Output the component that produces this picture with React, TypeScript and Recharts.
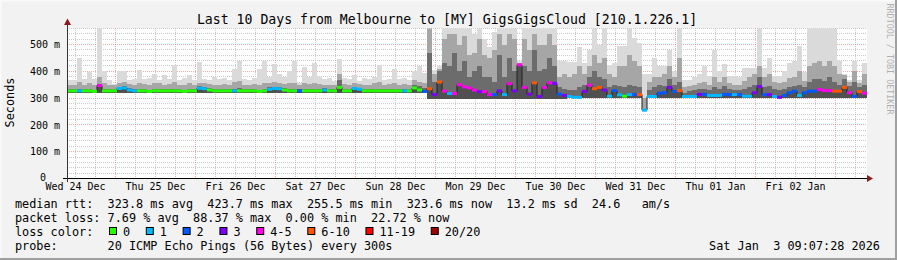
import React from 'react';
import { ComposedChart, Area, Line, Scatter, XAxis, YAxis, CartesianGrid } from 'recharts';

// time axis: hours after Wed 24 Dec 00:00; window is 10 days ending Sat 3 Jan 09:07
const T_START = 9.45;
const T_END = 249.45;
const STEP = 1.5; // hours per bucket

const dayLabels = ['Wed 24 Dec', 'Thu 25 Dec', 'Fri 26 Dec', 'Sat 27 Dec', 'Sun 28 Dec', 'Mon 29 Dec', 'Tue 30 Dec', 'Wed 31 Dec', 'Thu 01 Jan', 'Fri 02 Jan'];
const dayLabelHours = [12, 36, 60, 84, 108, 132, 156, 180, 204, 228];
const yTicks = [0, 100, 200, 300, 400, 500];
const Y_MAX = 560;

const LOSS_COLORS = ['#26ff00', '#00b8ff', '#0059ff', '#7e00ff', '#ff00ea', '#ff5500', '#ff0000', '#a10000'];
const LOSS_LABELS = ['0', '1', '2', '3', '4-5', '6-10', '11-19', '20/20'];

// median rtt (ms) per bucket
const median = [
  327, 327, 327, 327, 327, 325, 347, 327, 327, 327,
  336, 338, 330, 327, 327, 327, 325, 327, 327, 327,
  327, 327, 327, 325, 327, 327, 337, 335, 330, 327,
  327, 327, 327, 327, 327, 327, 327, 327, 325, 327,
  333, 336, 335, 330, 327, 327, 327, 327, 327, 327,
  327, 330, 327, 327, 340, 327, 327, 336, 333, 327,
  327, 327, 327, 327, 327, 327, 327, 327, 327, 338,
  330, 325, 335, 313, 360, 326, 317, 317, 350, 342,
  338, 330, 324, 324, 313, 313, 327, 313, 354, 327,
  424, 340, 315, 357, 306, 340, 357, 355, 315, 310,
  306, 303, 303, 325, 348, 335, 340, 330, 307, 328,
  312, 307, 313, 313, 313, 255, 306, 306, 318, 320,
  340, 325, 328, 306, 306, 306, 314, 314, 310, 310,
  310, 314, 313, 313, 313, 307, 307, 320, 343, 313,
  313, 306, 303, 310, 320, 326, 310, 320, 326, 326,
  332, 328, 328, 326, 326, 340, 320, 306, 324, 318,
];

// loss class index per bucket (into LOSS_COLORS)
const lossClass = [
  0, 0, 1, 0, 0, 0, 4, 0, 0, 0,
  1, 1, 1, 1, 0, 0, 0, 0, 0, 0,
  0, 0, 0, 0, 0, 0, 1, 1, 0, 0,
  0, 0, 0, 1, 0, 0, 0, 0, 0, 0,
  1, 1, 1, 0, 0, 0, 2, 0, 0, 0,
  0, 1, 0, 0, 0, 0, 0, 1, 1, 0,
  0, 0, 0, 0, 0, 0, 0, 1, 0, 0,
  0, 2, 5, 3, 5, 4, 1, 4, 4, 4,
  4, 4, 3, 4, 4, 2, 3, 1, 4, 3,
  4, 4, 3, 5, 3, 4, 4, 3, 2, 3,
  1, 1, 1, 3, 4, 5, 5, 3, 1, 2,
  1, 0, 1, 2, 5, 1, 1, 1, 2, 2,
  3, 2, 5, 1, 1, 1, 3, 2, 1, 1,
  1, 2, 2, 1, 2, 1, 1, 3, 3, 2,
  3, 1, 3, 2, 2, 2, 1, 2, 2, 2,
  4, 4, 4, 5, 5, 5, 4, 2, 5, 4,
];

// smoke: bottom edge (fastest pings)
const smokeLow = [
  318, 318, 318, 318, 318, 318, 318, 318, 318, 318,
  318, 318, 318, 318, 318, 318, 318, 318, 318, 318,
  318, 318, 318, 318, 318, 318, 318, 318, 318, 318,
  318, 318, 318, 318, 318, 318, 318, 318, 318, 318,
  318, 318, 318, 318, 318, 318, 318, 318, 318, 318,
  318, 318, 318, 318, 320, 318, 318, 318, 318, 318,
  318, 318, 318, 318, 318, 318, 318, 318, 318, 318,
  318, 318, 298, 298, 298, 298, 298, 298, 298, 298,
  298, 298, 298, 298, 298, 298, 298, 298, 298, 298,
  298, 298, 298, 298, 298, 298, 298, 298, 298, 298,
  302, 302, 302, 302, 302, 302, 302, 302, 302, 302,
  302, 302, 302, 302, 302, 252, 302, 302, 302, 302,
  302, 302, 302, 302, 302, 302, 302, 302, 302, 302,
  302, 302, 302, 302, 302, 302, 302, 302, 302, 302,
  302, 302, 302, 302, 302, 302, 302, 302, 302, 302,
  302, 302, 302, 302, 302, 302, 302, 302, 302, 302,
];

// smoke: top of the dark core
const smokeDark = [
  333, 333, 333, 333, 334, 331, 352, 333, 333, 333,
  343, 345, 337, 333, 333, 334, 331, 333, 334, 333,
  333, 334, 333, 331, 334, 333, 344, 342, 336, 333,
  333, 334, 333, 333, 336, 333, 333, 333, 331, 333,
  340, 343, 342, 336, 333, 334, 333, 333, 334, 333,
  333, 336, 333, 333, 368, 333, 333, 342, 339, 333,
  333, 334, 333, 333, 333, 334, 333, 333, 333, 350,
  345, 336, 470, 360, 400, 430, 420, 470, 400, 440,
  380, 400, 420, 380, 380, 360, 460, 380, 450, 400,
  426, 420, 400, 480, 400, 410, 450, 420, 340, 335,
  330, 330, 340, 350, 380, 400, 380, 370, 340, 350,
  345, 340, 350, 345, 340, 258, 330, 340, 350, 345,
  370, 350, 360, 320, 325, 330, 335, 335, 330, 340,
  335, 345, 335, 330, 330, 335, 340, 350, 380, 340,
  345, 335, 330, 335, 340, 345, 350, 340, 360, 370,
  370, 365, 380, 360, 350, 370, 345, 360, 340, 350,
];

// smoke: top of the mid-grey band
const smokeMid = [
  348, 350, 360, 350, 355, 348, 380, 355, 350, 348,
  358, 360, 352, 350, 355, 352, 350, 355, 358, 350,
  352, 360, 350, 350, 355, 350, 358, 356, 352, 350,
  350, 352, 350, 360, 362, 350, 350, 352, 350, 355,
  355, 360, 358, 352, 355, 358, 348, 356, 352, 358,
  352, 350, 350, 348, 390, 352, 350, 356, 352, 350,
  350, 355, 360, 350, 352, 358, 350, 352, 350, 368,
  360, 355, 560, 390, 410, 520, 540, 540, 500, 530,
  460, 470, 520, 460, 450, 480, 540, 500, 540, 520,
  430, 520, 480, 540, 500, 500, 540, 500, 380, 390,
  380, 390, 420, 390, 420, 460, 430, 450, 390, 380,
  420, 420, 460, 440, 420, 300, 360, 380, 380, 390,
  420, 380, 450, 340, 345, 350, 355, 360, 350, 380,
  360, 380, 355, 350, 350, 365, 380, 390, 420, 380,
  390, 360, 355, 360, 375, 380, 400, 365, 420, 430,
  440, 420, 440, 420, 390, 385, 360, 400, 355, 390,
];

// smoke: top edge (slowest pings)
const smokeHigh = [
  366, 366, 448, 373, 396, 373, 560, 400, 366, 354,
  400, 400, 366, 370, 406, 370, 375, 390, 366, 385,
  370, 424, 366, 375, 385, 366, 434, 370, 366, 380,
  370, 375, 366, 410, 440, 370, 366, 375, 410, 437,
  380, 429, 390, 380, 400, 437, 358, 415, 380, 430,
  380, 370, 375, 365, 447, 375, 370, 385, 365, 375,
  370, 380, 424, 366, 370, 410, 370, 375, 366, 400,
  421, 395, 560, 403, 420, 560, 560, 560, 560, 560,
  560, 540, 560, 520, 490, 545, 560, 560, 560, 560,
  440, 560, 560, 560, 560, 560, 560, 560, 440, 440,
  433, 433, 490, 430, 478, 560, 500, 560, 425, 430,
  496, 496, 560, 526, 507, 390, 390, 450, 420, 420,
  478, 400, 560, 366, 366, 380, 390, 420, 384, 478,
  400, 429, 384, 384, 380, 414, 414, 414, 560, 414,
  451, 384, 384, 400, 430, 438, 496, 397, 560, 560,
  560, 560, 560, 560, 440, 390, 366, 440, 366, 430,
];

const statLines = [
  'median rtt:  323.8 ms avg  423.7 ms max  255.5 ms min  323.6 ms now  13.2 ms sd  24.6   am/s',
  'packet loss: 7.69 % avg  88.37 % max  0.00 % min  22.72 % now',
];
const lossColorTitle = 'loss color:';
const probeLine = 'probe:       20 ICMP Echo Pings (56 Bytes) every 300s';
const stampLine = 'Sat Jan  3 09:07:28 2026';
const titleText = 'Last 10 Days from Melbourne to [MY] GigsGigsCloud [210.1.226.1]';

const MONO = '"DejaVu Sans Mono", "Liberation Mono", monospace';
const CHAR_W = 7.12;

const rows = median.map((m, i) => ({
  t: T_START + STEP * i,
  base: smokeLow[i],
  s1: m - smokeLow[i],
  s2: smokeDark[i] - m,
  s3: smokeMid[i] - smokeDark[i],
  s4: smokeHigh[i] - smokeMid[i],
  med: m,
}));
const last = rows[rows.length - 1];
rows.push({ ...last, t: T_END });

const medPoints = median.map((m, i) => ({
  t: T_START + STEP * i,
  med: m,
  color: LOSS_COLORS[lossClass[i]],
}));

const minorH: number[] = [];
for (let v = 20; v <= Y_MAX; v += 20) if (v % 100 !== 0) minorH.push(v);
const majorH = [100, 200, 300, 400, 500];
const minorV: number[] = [];
const majorV: number[] = [];
for (let h = 12; h < T_END; h += 6) {
  if (h % 24 === 0) majorV.push(h);
  else minorV.push(h);
}

const XTick = (props: any) => {
  const { x, y, payload } = props;
  const idx = dayLabelHours.indexOf(payload.value);
  return (
    <text x={x} y={y + 11.5} textAnchor="middle" fontFamily={MONO} fontSize={10} fill="#000">
      {idx >= 0 ? dayLabels[idx] : ''}
    </text>
  );
};

const YTick = (props: any) => {
  const { x, y, payload } = props;
  const v = payload.value;
  return (
    <text x={v === 0 ? x - 14 : x} y={v === 0 ? y + 2.6 : y + 3.6} textAnchor="end" fontFamily={MONO} fontSize={10} fill="#000">
      {v === 0 ? '0' : `${v} m`}
    </text>
  );
};

const MedianMark = (props: any) => {
  const { cx, cy, payload } = props;
  if (cx == null || cy == null) return null;
  return <rect x={cx} y={cy - 1.5} width={5} height={3} fill={payload.color} />;
};

export default function App() {
  let boxX = 109;
  const legendItems = LOSS_LABELS.map((lab, k) => {
    const bx = boxX;
    boxX += (lab.length + 4.17) * CHAR_W;
    return (
      <g key={lab}>
        <rect x={bx + 0.5} y={227.5} width={7} height={7} fill={LOSS_COLORS[k]} stroke="#000" strokeWidth={1} />
        <text x={bx + 14} y={235.5} fontFamily={MONO} fontSize={11.83} fill="#000">{lab}</text>
      </g>
    );
  });

  return (
    <div style={{ position: 'absolute', left: 0, top: 0, width: 897, height: 260, background: '#f2f2f2', overflow: 'hidden' }}>
      <ComposedChart width={897} height={260} data={rows} margin={{ top: 28.42, right: 30, bottom: 0, left: 7 }}>
        <CartesianGrid fill="#ffffff" horizontal={false} vertical={false} />
        <XAxis
          dataKey="t"
          type="number"
          domain={[T_START, T_END]}
          allowDataOverflow
          ticks={dayLabelHours}
          interval={0}
          height={81.5}
          axisLine={false}
          tickLine={false}
          tickSize={0}
          tickMargin={0}
          tick={<XTick />}
        />
        <YAxis
          type="number"
          domain={[0, Y_MAX]}
          allowDataOverflow
          ticks={yTicks}
          interval={0}
          width={60}
          axisLine={false}
          tickLine={false}
          tickSize={0}
          tickMargin={7}
          tick={<YTick />}
        />
        <Area dataKey="base" stackId="smoke" type="stepAfter" stroke="none" fill="transparent" fillOpacity={0} isAnimationActive={false} />
        <Area dataKey="s1" stackId="smoke" type="stepAfter" stroke="none" fill="#505050" fillOpacity={1} isAnimationActive={false} shapeRendering="crispEdges" />
        <Area dataKey="s2" stackId="smoke" type="stepAfter" stroke="none" fill="#6c6c6c" fillOpacity={1} isAnimationActive={false} shapeRendering="crispEdges" />
        <Area dataKey="s3" stackId="smoke" type="stepAfter" stroke="none" fill="#a6a6a6" fillOpacity={1} isAnimationActive={false} shapeRendering="crispEdges" />
        <Area dataKey="s4" stackId="smoke" type="stepAfter" stroke="none" fill="#dadada" fillOpacity={1} isAnimationActive={false} shapeRendering="crispEdges" />
        <CartesianGrid horizontalValues={minorH} verticalValues={minorV} stroke="#bdbdbd" strokeOpacity={0.8} strokeDasharray="1 1" shapeRendering="crispEdges" />
        <CartesianGrid horizontalValues={majorH} verticalValues={majorV} stroke="#f07070" strokeOpacity={0.6} strokeDasharray="1 1" shapeRendering="crispEdges" />
        <Line dataKey="med" type="stepAfter" stroke="#222222" strokeWidth={1} dot={false} isAnimationActive={false} />
        <Scatter data={medPoints} dataKey="med" shape={<MedianMark />} isAnimationActive={false} />
      </ComposedChart>
      <svg width={897} height={260} style={{ position: 'absolute', left: 0, top: 0, pointerEvents: 'none' }}>
        <rect x={0} y={0} width={897} height={1.5} fill="#fafafa" />
        <rect x={0} y={0} width={1.5} height={260} fill="#fafafa" />
        <rect x={0} y={258} width={897} height={2} fill="#a0a0a0" />
        <rect x={895} y={0} width={2} height={260} fill="#a0a0a0" />
        <line x1={63} y1={178.5} x2={868} y2={178.5} stroke="#000" strokeWidth={1} />
        <line x1={67.5} y1={182} x2={67.5} y2={24} stroke="#333" strokeWidth={1} />
        <polygon points="867,175 873,178.5 867,182" fill="#8b1a1a" />
        <polygon points="64,25 67.5,18.5 71,25" fill="#8b1a1a" />
        <text x={447} y={24} textAnchor="middle" fontFamily={MONO} fontSize={13.2} fill="#000" style={{ whiteSpace: 'pre' }}>
          {titleText}
        </text>
        <text x={13.5} y={102.5} textAnchor="middle" fontFamily={MONO} fontSize={11.83} fill="#000" transform="rotate(-90 13.5 102.5)">
          Seconds
        </text>
        <text x={887} y={59} textAnchor="middle" fontFamily={MONO} fontSize={8.4} fill="#b0b0b0" transform="rotate(90 887 59)">
          RRDTOOL / TOBI OETIKER
        </text>
        <text x={15} y={207.7} fontFamily={MONO} fontSize={11.83} fill="#000" xmlSpace="preserve" style={{ whiteSpace: 'pre' }}>{statLines[0]}</text>
        <text x={15} y={222} fontFamily={MONO} fontSize={11.83} fill="#000" xmlSpace="preserve" style={{ whiteSpace: 'pre' }}>{statLines[1]}</text>
        <text x={15} y={235.5} fontFamily={MONO} fontSize={11.83} fill="#000">{lossColorTitle}</text>
        {legendItems}
        <text x={15} y={249.5} fontFamily={MONO} fontSize={11.83} fill="#000" xmlSpace="preserve" style={{ whiteSpace: 'pre' }}>{probeLine}</text>
        <text x={880} y={249.5} textAnchor="end" fontFamily={MONO} fontSize={11.83} fill="#000" xmlSpace="preserve" style={{ whiteSpace: 'pre' }}>{stampLine}</text>
      </svg>
    </div>
  );
}
